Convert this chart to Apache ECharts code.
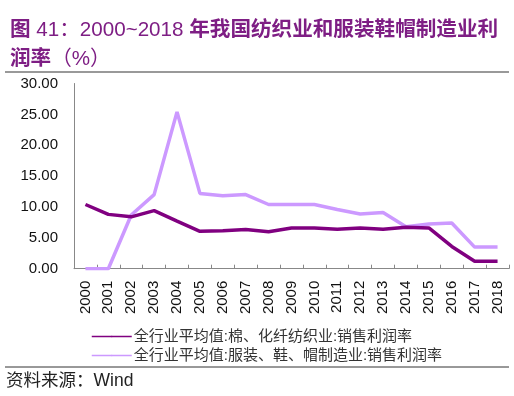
<!DOCTYPE html>
<html>
<head>
<meta charset="utf-8">
<script src="https://cdn.jsdelivr.net/npm/echarts@6/dist/echarts.min.js"></script>
<style>
html,body{margin:0;padding:0;background:#fff;}
#c{width:514px;height:396px;}
</style>
</head>
<body>
<div id="c"></div>
<script>
var years = ['2000','2001','2002','2003','2004','2005','2006','2007','2008','2009','2010','2011','2012','2013','2014','2015','2016','2017','2018'];
var textileMargin = [10.4, 8.8, 8.4, 9.4, 7.7, 6.05, 6.15, 6.35, 6.0, 6.6, 6.6, 6.4, 6.6, 6.4, 6.7, 6.6, 3.6, 1.2, 1.2];
var apparelMargin = [0.0, 0.0, 8.7, 12.0, 25.4, 12.2, 11.8, 12.0, 10.4, 10.4, 10.4, 9.6, 8.85, 9.1, 6.8, 7.25, 7.4, 3.5, 3.5];
var seriesNames = ['全行业平均值:棉、化纤纺织业:销售利润率', '全行业平均值:服装、鞋、帽制造业:销售利润率'];
var titleParts = ['图', ' 41：2000~2018 ', '年我国纺织业和服装鞋帽制造业利', '润率', '（%）'];
var sourceText = '资料来源：Wind';

var chart = echarts.init(document.getElementById('c'), null, {renderer: 'canvas'});
var font = '"Liberation Sans", Arial, "Noto Sans CJK SC", sans-serif';
var titleStyleBase = {color: '#7E1E84', fontSize: 20.6, lineHeight: 29, fontFamily: font};
chart.setOption({
  backgroundColor: '#fff',
  animation: false,
  title: {
    text: '{b|' + titleParts[0] + '}{n|' + titleParts[1] + '}{b|' + titleParts[2] + '}\n{b|' + titleParts[3] + '}{n|' + titleParts[4] + '}',
    left: 5,
    top: 11,
    textStyle: {
      color: '#7E1E84', fontSize: 20.6, lineHeight: 29, fontFamily: font,
      rich: {
        b: Object.assign({fontWeight: 'bold'}, titleStyleBase),
        n: Object.assign({fontWeight: 'normal'}, titleStyleBase)
      }
    }
  },
  graphic: [
    {type: 'line', shape: {x1: 5, y1: 72, x2: 509, y2: 72}, style: {stroke: '#777', lineWidth: 1.5}},
    {type: 'line', shape: {x1: 5, y1: 367, x2: 509, y2: 367}, style: {stroke: '#333', lineWidth: 1}},
    {type: 'text', left: 6, top: 372, style: {text: sourceText, fill: '#222', font: '17.5px ' + font}}
  ],
  legend: {
    orient: 'vertical',
    left: 86,
    top: 324,
    itemWidth: 40,
    itemHeight: 2,
    itemGap: 4,
    lineStyle: {width: 1.5},
    textStyle: {fontSize: 15, color: '#333', fontFamily: font, padding: [0, 0, 0, -3]},
    data: seriesNames
  },
  grid: {left: 74, right: 5, top: 83.5, bottom: 127.3, containLabel: false},
  xAxis: {
    type: 'category',
    data: years,
    boundaryGap: true,
    axisLine: {lineStyle: {color: '#888', width: 1}},
    axisTick: {show: true, inside: true, length: 4, lineStyle: {color: '#888'}},
    axisLabel: {rotate: 90, margin: 12, fontSize: 15, color: '#111', fontFamily: font, interval: 0}
  },
  yAxis: {
    type: 'value',
    min: 0,
    max: 30,
    interval: 5,
    splitLine: {show: false},
    axisLine: {show: true, lineStyle: {color: '#888', width: 1}},
    axisTick: {show: false},
    axisLabel: {fontSize: 15, color: '#111', fontFamily: font, margin: 16,
      formatter: function (v) { return v.toFixed(2); }}
  },
  series: [
    {
      name: seriesNames[0], type: 'line', data: textileMargin,
      symbol: 'none', lineStyle: {color: '#800080', width: 3.5}, itemStyle: {color: '#800080'}, z: 3
    },
    {
      name: seriesNames[1], type: 'line', data: apparelMargin,
      symbol: 'none', lineStyle: {color: '#CC99FF', width: 3.5}, itemStyle: {color: '#CC99FF'}, z: 2
    }
  ]
});
</script>
</body>
</html>
